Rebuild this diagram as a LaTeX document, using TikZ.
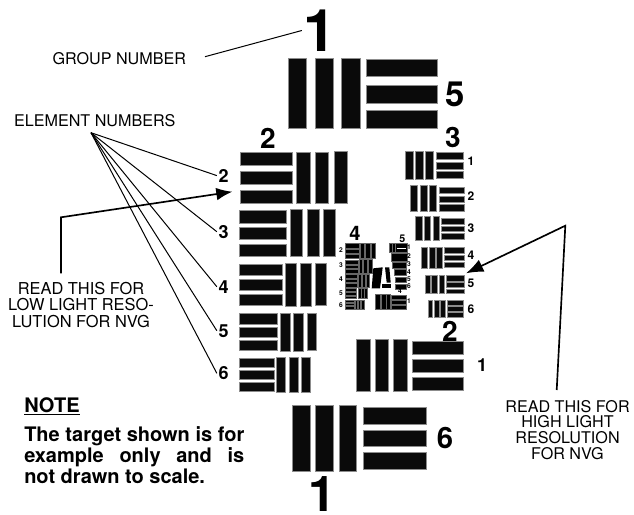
\documentclass[tikz,border=0pt]{standalone}
\usepackage{fontspec}
\setmainfont{TeX Gyre Heros}
\usetikzlibrary{arrows.meta}
\newcommand\tb[4]{\path[barbox] (#1,#3) rectangle (#2,#4);}
\newcommand\ts[4]{\path[tinybox] (#1,#3) rectangle (#2,#4);}
\newcommand\fs[1]{\fontsize{#1}{#1}\selectfont}
\tikzset{
  barbox/.style={fill=black!96,draw=black!45,line width=0.35pt},
  tinybox/.style={fill=black,draw=black!60,line width=0.15pt},
  num/.style={inner sep=1.2pt,font=\bfseries},
  lab/.style={inner sep=0pt,font=\fs{12.1}},
  thin line/.style={draw=black,line width=0.75pt},
  pointer/.style={draw=black,line width=1.25pt,line join=miter},
}
\begin{document}
\begin{tikzpicture}[x=0.75pt,y=-0.75pt]
\useasboundingbox (0,0) rectangle (634,514);
\fill[white] (0,0) rectangle (634,514);
% group 1 element 5
\tb{288.3}{306.7}{58}{128.3}\tb{315}{333.3}{58}{128.3}\tb{341.3}{360}{58}{128.3}
\tb{366}{437}{59}{76.7}\tb{366}{437}{85}{103}\tb{366}{437}{110}{128}
% group 1 element 6
\tb{292.7}{310}{405.7}{471}\tb{315.7}{333.3}{405.7}{471}\tb{339.3}{356.7}{405.7}{471}
\tb{363.3}{426.7}{407.7}{424.3}\tb{363.3}{426.7}{430}{446.7}\tb{363.3}{426.7}{452.3}{469}
% group 2 element 2
\tb{240.7}{292.7}{152}{165}\tb{240.7}{292.7}{171.3}{184.3}\tb{240.7}{292.7}{190}{203}
\tb{296.7}{310}{152}{203.3}\tb{315.3}{328.7}{152}{203.3}\tb{334}{347.3}{151}{203}
% element 3
\tb{239.3}{286.3}{210.7}{223.3}\tb{239.3}{286.3}{227.3}{239.3}\tb{239.3}{286.3}{244.3}{256.3}
\tb{290.3}{302.3}{209.7}{256.7}\tb{307}{319}{209.7}{256.7}\tb{323.3}{335.7}{209.7}{256.7}
% element 4
\tb{239.3}{282.7}{264.7}{275.3}\tb{239.3}{282.7}{279.3}{290}\tb{239.3}{282.7}{294.3}{305.7}
\tb{285}{296.3}{263.7}{306}\tb{300.3}{311.3}{263.7}{306}\tb{315.7}{326.7}{263.7}{305.7}
% element 5
\tb{239.3}{277.3}{313.7}{324}\tb{239.3}{277.3}{327.3}{337}\tb{239.3}{277.3}{340.3}{350.3}
\tb{280}{290.3}{313.7}{351}\tb{293.3}{303}{313.7}{351}\tb{307}{316.7}{313.7}{350.3}
% element 6
\tb{239.3}{274}{358}{367.7}\tb{239.3}{274}{370.3}{379.3}\tb{239.3}{274}{382.7}{391.7}
\tb{276.7}{285.7}{357.7}{392.3}\tb{289}{298}{357.7}{392.3}\tb{301.3}{310.7}{357.7}{392.3}
% group 3 element 1
\tb{405.7}{413}{151}{179}\tb{415.7}{423}{151}{179}\tb{425.3}{433}{151}{179}
\tb{436}{463.3}{152.7}{159.7}\tb{436}{463.3}{162.3}{169}\tb{436}{463.3}{171.7}{178.7}
% element 2
\tb{410.7}{417.3}{185.3}{211.7}\tb{420}{427}{185.3}{211.7}\tb{429.3}{436.3}{185.3}{211.7}
\tb{439}{464.3}{187}{193.7}\tb{439}{464.3}{196}{202.3}\tb{439}{464.3}{204.7}{211.3}
% element 3
\tb{415.7}{422}{216.7}{240.3}\tb{424.3}{430.3}{216.7}{240.3}\tb{433}{439}{216.7}{240.3}
\tb{441}{464}{218}{224.3}\tb{441}{464}{226}{231.7}\tb{441}{464}{233.3}{239.3}
% element 4
\tb{421.7}{427.5}{247}{268.7}\tb{429.5}{435}{247}{268.7}\tb{436.7}{442.3}{247}{268.7}
\tb{444.3}{464.7}{247.7}{253.3}\tb{444.3}{464.7}{255.3}{260.3}\tb{444.3}{464.7}{262}{267.3}
% element 5
\tb{425.3}{430.7}{275}{293.7}\tb{431.7}{437.3}{275}{293.7}\tb{439}{444.3}{275}{293.7}
\tb{446.3}{464}{275.7}{281}\tb{446.3}{464}{282.7}{287}\tb{446.3}{464}{289}{293.7}
% element 6
\tb{428}{432.7}{300}{317.3}\tb{434.3}{439.3}{300}{317.3}\tb{440.7}{445.3}{300}{317.3}
\tb{447}{463.7}{300.3}{305.3}\tb{447}{463.7}{306.7}{311}\tb{447}{463.7}{312.3}{317}
% group 2 element 1
\tb{356.7}{370}{339.3}{391.3}\tb{375}{388.7}{339.3}{391.3}\tb{393.3}{407.3}{339.3}{391.3}
\tb{412}{463.3}{341.7}{354.7}\tb{412}{463.3}{359.3}{372}\tb{412}{463.3}{377.3}{390}
% group 4
\ts{344.7}{359.3}{243}{247.7}\ts{344.7}{359.3}{248.7}{252.9}\ts{344.7}{359.3}{253.9}{258}
\ts{360.3}{364.3}{242.7}{258.3}\ts{365}{369.7}{242.7}{258.3}\ts{370.6}{374.7}{242.7}{258.3}
\ts{344.7}{358}{260}{263.9}\ts{344.7}{358}{264.8}{268.5}\ts{344.7}{358}{269.3}{273.3}
\ts{358.7}{362.5}{259.3}{273.3}\ts{363.3}{367.2}{259.3}{273.3}\ts{368}{371.7}{259.3}{273.3}
\ts{344.7}{356.7}{274.3}{278.3}\ts{344.7}{356.7}{279}{282.4}\ts{344.7}{356.7}{283.1}{286.9}
\ts{357.7}{361}{274.3}{287.3}\ts{361.9}{365}{274.3}{287.3}\ts{365.8}{369.3}{274.3}{287.3}
\ts{344.7}{356}{288.3}{291.2}\ts{344.7}{356}{292}{294.9}\ts{344.7}{356}{295.7}{298.5}
\ts{358}{360.6}{287.7}{298.3}\ts{361.2}{363.8}{287.7}{298.3}\ts{364.3}{366.9}{287.7}{298.3}
\ts{344.7}{354}{300}{302.3}\ts{344.7}{354}{302.9}{305.5}\ts{344.7}{354}{306.1}{309}
\ts{355}{357.3}{300}{309.3}\ts{358.1}{360.5}{300}{309.3}\ts{361.5}{364.3}{300}{309.3}
% group 5
\ts{389}{391.7}{243.5}{252}\ts{392.2}{394.7}{243.5}{252}\ts{395.2}{406.7}{243.5}{252}
\fill[white] (397,248) rectangle (406,248.8);
\ts{390.7}{406.7}{253.3}{260.7}\ts{392.3}{406}{261.7}{267.7}\ts{394}{406}{269.3}{275.3}
\ts{394.7}{406}{276.7}{282.3}\ts{395.3}{406}{284.3}{289.3}
% lower small element
\ts{375.5}{380.2}{294.3}{309.3}\ts{381}{385.7}{294.3}{309.3}\ts{386.5}{390.2}{294.3}{309.3}
\ts{391}{405.7}{295}{299.5}\ts{391}{405.7}{300}{304.3}\ts{391}{405.7}{304.9}{309.3}
% centre blobs
\fill[black] (373.3,268.3) -- (382.7,267.3) -- (380,288.3) -- (371.7,288.3) -- cycle;
\fill[black] (385,267.3) -- (389.3,267.3) -- (390.7,282.7) -- (386.7,282.7) -- cycle;
\fill[black] (382,284) rectangle (391,288.3);
% big numbers
\node[num,font=\bfseries\fs{44}] (gtop) at (320,30.5) {1};
\node[inner sep=0pt,font=\bfseries\fs{37}] (gbot) at (322,494.5) {1};
\node[num,font=\bfseries\fs{26}] (e5) at (455,94) {5};
\node[num,font=\bfseries\fs{22}] (e6) at (445,438.3) {6};
\node[num,font=\bfseries\fs{21}] (g2) at (268,138) {2};
\node[num,font=\bfseries\fs{21}] (g3) at (453,137) {3};
\node[num,font=\bfseries\fs{21}] (g2b) at (450,331) {2};
\node[num,font=\bfseries\fs{13.5}] (n1) at (482,365) {1};
\foreach \nm/\yy in {2/175.6,3/231.7,4/286.7,5/330.7,6/373.3}
  \node[num,font=\bfseries\fs{13.5}] (l\nm) at (223.7,\yy) {\nm};
\foreach \nm/\yy in {1/161.7,2/196.3,3/228.3,4/255.3,5/283.3,6/309}
  \node[num,font=\bfseries\fs{9}] (r\nm) at (471,\yy) {\nm};
\node[num,font=\bfseries\fs{15}] (g4) at (355,233) {4};
\node[num,font=\bfseries\fs{8}] (g5) at (402.3,239) {5};
\foreach \nm/\yy in {2/250,3/265,4/279,5/293,6/304.7}
  \node[num,font=\bfseries\fs{5}] (s\nm) at (341,\yy) {\nm};
\foreach \nm/\yy in {1/247.3,2/256.3,3/264,4/272,5/279,6/286}
  \node[num,font=\bfseries\fs{5}] (t\nm) at (409,\yy) {\nm};
\node[num,font=\bfseries\fs{5}] (u4) at (400,291) {4};
\node[num,font=\bfseries\fs{5}] (u1) at (409,301) {1};
% labels
\node[lab] (grp) at (119.3,58.3) {GROUP NUMBER};
\node[lab] (elm) at (94.8,120.7) {ELEMENT NUMBERS};
\node[lab,align=center,font=\fontsize{12.3}{12.5}\selectfont] (low) at (81,305) {READ THIS FOR\\LOW LIGHT RESO-\\LUTION FOR NVG};
\node[lab,align=center,font=\fontsize{12.1}{11.9}\selectfont] (high) at (567.5,430) {READ THIS FOR\\HIGH LIGHT\\RESOLUTION\\FOR NVG};
\node[inner sep=0pt,anchor=base west,font=\bfseries\fs{15}] (note) at (24,412.5) {\underline{NOTE}};
\node[inner sep=0pt,anchor=north west,font=\bfseries\fs{15}] (body) at (24,426) {\vbox{\baselineskip=15.9pt
  \hbox to 165pt{The target shown is for}
  \hbox to 165pt{example\hfil only\hfil and\hfil is}
  \hbox{not drawn to scale.}}};
% connectors
\coordinate (apex) at (91,132.7);
\foreach \nm in {2,3,4,5,6} \draw[thin line] (apex) -- (l\nm.west);
\coordinate (gs) at (205,56.7);
\draw[thin line] (gs) -- (gtop.west);
\coordinate (lowstart) at (61,273.3);
\coordinate (lowcorner) at (61,217.3);
\coordinate (lowtip) at (232.3,191.7);
\draw[pointer,-{Latex[length=12pt,width=9.5pt]}] (lowstart) -- (lowcorner) -- (lowtip);
\coordinate (highstart) at (556.7,390);
\coordinate (highcorner) at (565.3,225.7);
\coordinate (hightip) at (466,273.3);
\draw[pointer,-{Latex[length=13pt,width=10pt]}] (highstart) -- (highcorner) -- (hightip);
\end{tikzpicture}
\end{document}
